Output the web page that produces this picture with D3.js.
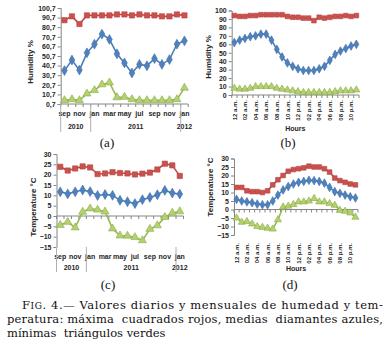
<!DOCTYPE html>
<html>
<head>
<meta charset="utf-8">
<script src="https://cdn.jsdelivr.net/npm/d3@7/dist/d3.min.js"></script>
<style>
  body { margin: 0; background: #fff; }
  svg text { font-family: "Liberation Sans", Arial, sans-serif; }
  .tk { font-size: 7px; font-weight: bold; fill: #262626; }
  .hk { font-size: 6px; font-weight: bold; fill: #262626; }
  .ttl { font-size: 8px; font-weight: bold; fill: #262626; }
  .sub { font-family: "Liberation Serif", serif !important; font-size: 13px; fill: #111; }
  .cap { font-family: "DejaVu Serif", serif !important; font-size: 11.5px; fill: #111; white-space: pre; }
</style>
</head>
<body>
<div id="chart"></div>
<script>

// monthly categories, sep 2010 .. jan 2012
var monthLabels = ["sep","oct","nov","dec","jan","feb","mar","apr","may","jun","jul","aug","sep","oct","nov","dec","jan"];
var yearLabels = ["2010","2011","2012"];
var yearFirst = [0, 4, 16];
var yearCount = [4, 12, 1];

// hourly categories
var hourLabels = ["12 a.m.","01 a.m.","02 a.m.","03 a.m.","04 a.m.","05 a.m.","06 a.m.","07 a.m.","08 a.m.","09 a.m.","10 a.m.","11 a.m.",
                  "12 p.m.","01 p.m.","02 p.m.","03 p.m.","04 p.m.","05 p.m.","06 p.m.","07 p.m.","08 p.m.","09 p.m.","10 p.m.","11 p.m."];

// (a) monthly humidity %
var humMonthMax  = [88, 92, 84, 93, 93, 93, 93, 94, 94, 93, 94, 93, 93, 92, 92, 94, 93];
var humMonthMean = [35.5, 46.5, 36, 54, 63, 73.5, 68, 53, 43.5, 33, 42, 40.5, 48, 42, 47, 63, 66.5];
var humMonthMin  = [4.5, 5.5, 4.5, 11.5, 15, 21, 23, 7.5, 8, 5.5, 4.5, 4.5, 4.5, 4.5, 4.5, 5.5, 17.5];

// (b) hourly humidity %
var humHourMax  = [94, 93, 93, 94, 94, 95, 95, 95, 95, 95, 93, 92, 92, 91, 91, 88, 92, 91, 92, 93, 93, 94, 93, 94];
var humHourMean = [62, 65, 67, 69, 70, 72, 72, 65, 54, 45, 38, 34, 31, 29, 29, 29, 31, 34, 41, 48, 52, 55, 58, 60];
var humHourMin  = [8, 7, 7, 8, 10, 10, 10, 10, 8, 7, 6, 5, 4, 3, 3, 3, 3, 3, 3, 4, 5, 5, 5, 6];

// (c) monthly temperature °C
var tempMonthMax  = [23.8, 22, 23, 24, 23.5, 20.3, 20.6, 21.2, 20.8, 20.6, 20.1, 20.5, 21, 22.5, 25.3, 24.5, 19.4];
var tempMonthMean = [11.7, 10.7, 11.7, 12.6, 11.8, 9.9, 10.4, 10, 7.6, 6.9, 6, 7.9, 9, 10.3, 12.4, 11.1, 10.6];
var tempMonthMin  = [-4.4, -2.9, -5.6, 2, 3.6, 3, 2.1, -6.1, -9.5, -9.6, -10.3, -11.8, -6.3, -4.6, -0.6, 1.5, 2.2];

// (d) hourly temperature °C
var tempHourMax  = [13, 13, 11, 10.5, 10.5, 10, 11, 14.5, 17.5, 20, 22.5, 23.5, 24, 24.5, 25.5, 25, 25, 24, 22, 18.5, 17, 16, 15, 14.5];
var tempHourMean = [6, 5, 4.5, 4, 3.2, 2.8, 2.8, 5, 8.5, 11.5, 13.5, 15, 16, 16.5, 17.2, 17, 16.5, 15.5, 13, 10.5, 9.5, 8.5, 7.5, 6.8];
var tempHourMin  = [-5, -7.5, -7, -8.5, -10, -10.5, -11, -11.5, -6, 1.5, 2, 3, 4.5, 4.5, 5, 6.5, 4.5, 4.5, 3.5, 2.5, -0.5, -1, -2, -4.5];

var humTicks = [0.7, 10.7, 20.7, 30.7, 40.7, 50.7, 60.7, 70.7, 80.7, 90.7, 100.7];
var humHourTicks = [0, 10, 20, 30, 40, 50, 60, 70, 80, 90, 100];
var tempTicks = [-15, -10, -5, 0, 5, 10, 15, 20, 25, 30];

var axisColor = "#868686";

var svg = d3.select("#chart").append("svg")
    .attr("width", 389)
    .attr("height", 345);

svg.append("rect").attr("width", 389).attr("height", 345).attr("fill", "#fff");

function drawPanel(p) {

  var n = p.series[0].length;
  var x = d3.scaleBand().domain(d3.range(n)).range([p.left, p.right]).padding(0);
  var y = d3.scaleLinear().domain(p.yDomain).range([p.bottom, p.top]);
  var g = svg.append("g");

  // y axis
  var yAxis = d3.axisLeft(y).tickValues(p.yTicks).tickSize(3).tickPadding(2).tickFormat(p.yFormat);
  var ya = g.append("g")
      .attr("transform", "translate(" + p.left + ",0)")
      .call(yAxis);
  ya.select(".domain").attr("stroke", axisColor);
  ya.selectAll(".tick line").attr("stroke", axisColor);
  ya.selectAll(".tick text").attr("class", "tk").attr("fill", null);

  // horizontal axis line at the base value, with ticks at band edges
  var yb = y(p.base);
  g.append("line")
      .attr("x1", p.left).attr("x2", p.right)
      .attr("y1", yb).attr("y2", yb)
      .attr("stroke", axisColor);

  g.selectAll(".edge")
      .data(d3.range(n + 1))
      .enter()
      .append("line")
      .attr("class", "edge")
      .attr("x1", function(d) { return d < n ? x(d) : p.right; })
      .attr("x2", function(d) { return d < n ? x(d) : p.right; })
      .attr("y1", yb)
      .attr("y2", yb + 3)
      .attr("stroke", axisColor);

  // category labels
  if (p.hours) {
    g.selectAll(".hl")
        .data(d3.range(0, n, 2))
        .enter()
        .append("text")
        .attr("class", "hk")
        .attr("text-anchor", "end")
        .attr("transform", function(d) {
          return "translate(" + (x(d) + x.bandwidth() / 2 + 2.2) + "," + p.labelTop + ") rotate(-90)";
        })
        .text(function(d) { return hourLabels[d]; });

    g.append("text")
        .attr("class", "tk")
        .attr("text-anchor", "middle")
        .attr("x", (p.left + p.right) / 2)
        .attr("y", p.hoursY)
        .text("Hours");
  } else {
    g.selectAll(".ml")
        .data(d3.range(0, n, 2))
        .enter()
        .append("text")
        .attr("class", "tk")
        .attr("text-anchor", "middle")
        .attr("x", function(d) { return x(d) + x.bandwidth() / 2; })
        .attr("y", p.monthY)
        .text(function(d) { return monthLabels[d]; });

    g.selectAll(".yl")
        .data(yearLabels)
        .enter()
        .append("text")
        .attr("class", "tk")
        .attr("text-anchor", "middle")
        .attr("x", function(d, i) { return x(yearFirst[i]) + yearCount[i] * x.bandwidth() / 2; })
        .attr("y", p.yearY)
        .text(function(d) { return d; });

    // group separators
    g.selectAll(".sep")
        .data(yearFirst)
        .enter()
        .append("line")
        .attr("x1", function(d) { return x(d); })
        .attr("x2", function(d) { return x(d); })
        .attr("y1", p.bottom)
        .attr("y2", p.sepBottom)
        .attr("stroke", "#b0b0b0");
  }

  // axis title
  g.append("text")
      .attr("class", "ttl")
      .attr("text-anchor", "middle")
      .attr("transform", "translate(" + p.titleX + "," + p.titleY + ") rotate(-90)")
      .text(p.title);

  // series: max (red squares), mean (blue diamonds), min (green triangles)
  var styles = [
    {line: "#be4b48", fill: "#c9524f", stroke: "#b8423f", shape: d3.symbolSquare},
    {line: "#4a7ebb", fill: "#4f81bd", stroke: "#3f6fa8", shape: d3.symbolDiamond},
    {line: "#98b954", fill: "#b4d16f", stroke: "#8cab45", shape: d3.symbolTriangle}
  ];

  var line = d3.line()
      .x(function(d, i) { return x(i) + x.bandwidth() / 2; })
      .y(function(d) { return y(d); });

  p.series.forEach(function(s, k) {
    var st = styles[k];
    g.append("path")
        .datum(s)
        .attr("d", line)
        .attr("fill", "none")
        .attr("stroke", st.line)
        .attr("stroke-width", 1.6);

    g.selectAll(".m" + k)
        .data(s)
        .enter()
        .append("path")
        .attr("class", "m" + k)
        .attr("d", d3.symbol().type(st.shape).size(p.markSize))
        .attr("transform", function(d, i) {
          return "translate(" + (x(i) + x.bandwidth() / 2) + "," + y(d) + ")";
        })
        .attr("fill", st.fill)
        .attr("stroke", st.stroke)
        .attr("stroke-width", 0.6);
  });

  svg.append("text")
      .attr("class", "sub")
      .attr("text-anchor", "middle")
      .attr("x", p.subX)
      .attr("y", p.subY)
      .text(p.sub);
}

var comma = function(d) { return d3.format(".1f")(d).replace(".", ","); };

drawPanel({
  series: [humMonthMax, humMonthMean, humMonthMin],
  left: 60.7, right: 188.2, top: 8, bottom: 104,
  yDomain: [0.7, 100.7], yTicks: humTicks, yFormat: comma, base: 0.7,
  monthY: 116, yearY: 129, sepBottom: 132,
  title: "Humidity %", titleX: 33, titleY: 62,
  markSize: 28, sub: "(a)", subX: 107, subY: 147
});

drawPanel({
  series: [humHourMax, humHourMean, humHourMin],
  left: 231.7, right: 359, top: 10.5, bottom: 95,
  yDomain: [0, 100], yTicks: humHourTicks, yFormat: d3.format("d"), base: 0,
  hours: true, labelTop: 100, hoursY: 131,
  title: "Humidity %", titleX: 211, titleY: 57,
  markSize: 22, sub: "(b)", subX: 288, subY: 147
});

drawPanel({
  series: [tempMonthMax, tempMonthMean, tempMonthMin],
  left: 56.5, right: 183.5, top: 154, bottom: 247,
  yDomain: [-15, 30], yTicks: tempTicks, yFormat: d3.format("d"), base: 0,
  monthY: 259, yearY: 270, sepBottom: 272,
  title: "Temperature °C", titleX: 36, titleY: 207,
  markSize: 28, sub: "(c)", subX: 108, subY: 289
});

drawPanel({
  series: [tempHourMax, tempHourMean, tempHourMin],
  left: 234, right: 358, top: 158.5, bottom: 235,
  yDomain: [-15, 30], yTicks: tempTicks, yFormat: d3.format("d"), base: 0,
  hours: true, labelTop: 243, hoursY: 271,
  title: "Temperature °C", titleX: 213, titleY: 187,
  markSize: 22, sub: "(d)", subX: 290, subY: 289
});

// caption
var l1 = svg.append("text").attr("class", "cap").attr("x", 22).attr("y", 309)
    .attr("textLength", 361).attr("lengthAdjust", "spacing");
l1.append("tspan").text("F");
l1.append("tspan").style("font-size", "9px").text("IG");
l1.append("tspan").text(". 4.— Valores diarios y mensuales de humedad y tem-");

svg.append("text").attr("class", "cap").attr("x", 7).attr("y", 323)
    .attr("textLength", 376).attr("lengthAdjust", "spacing")
    .text("peratura: máxima  cuadrados rojos, medias  diamantes azules,");

svg.append("text").attr("class", "cap").attr("x", 7).attr("y", 337)
    .text("mínimas  triángulos verdes");

</script>
</body>
</html>
